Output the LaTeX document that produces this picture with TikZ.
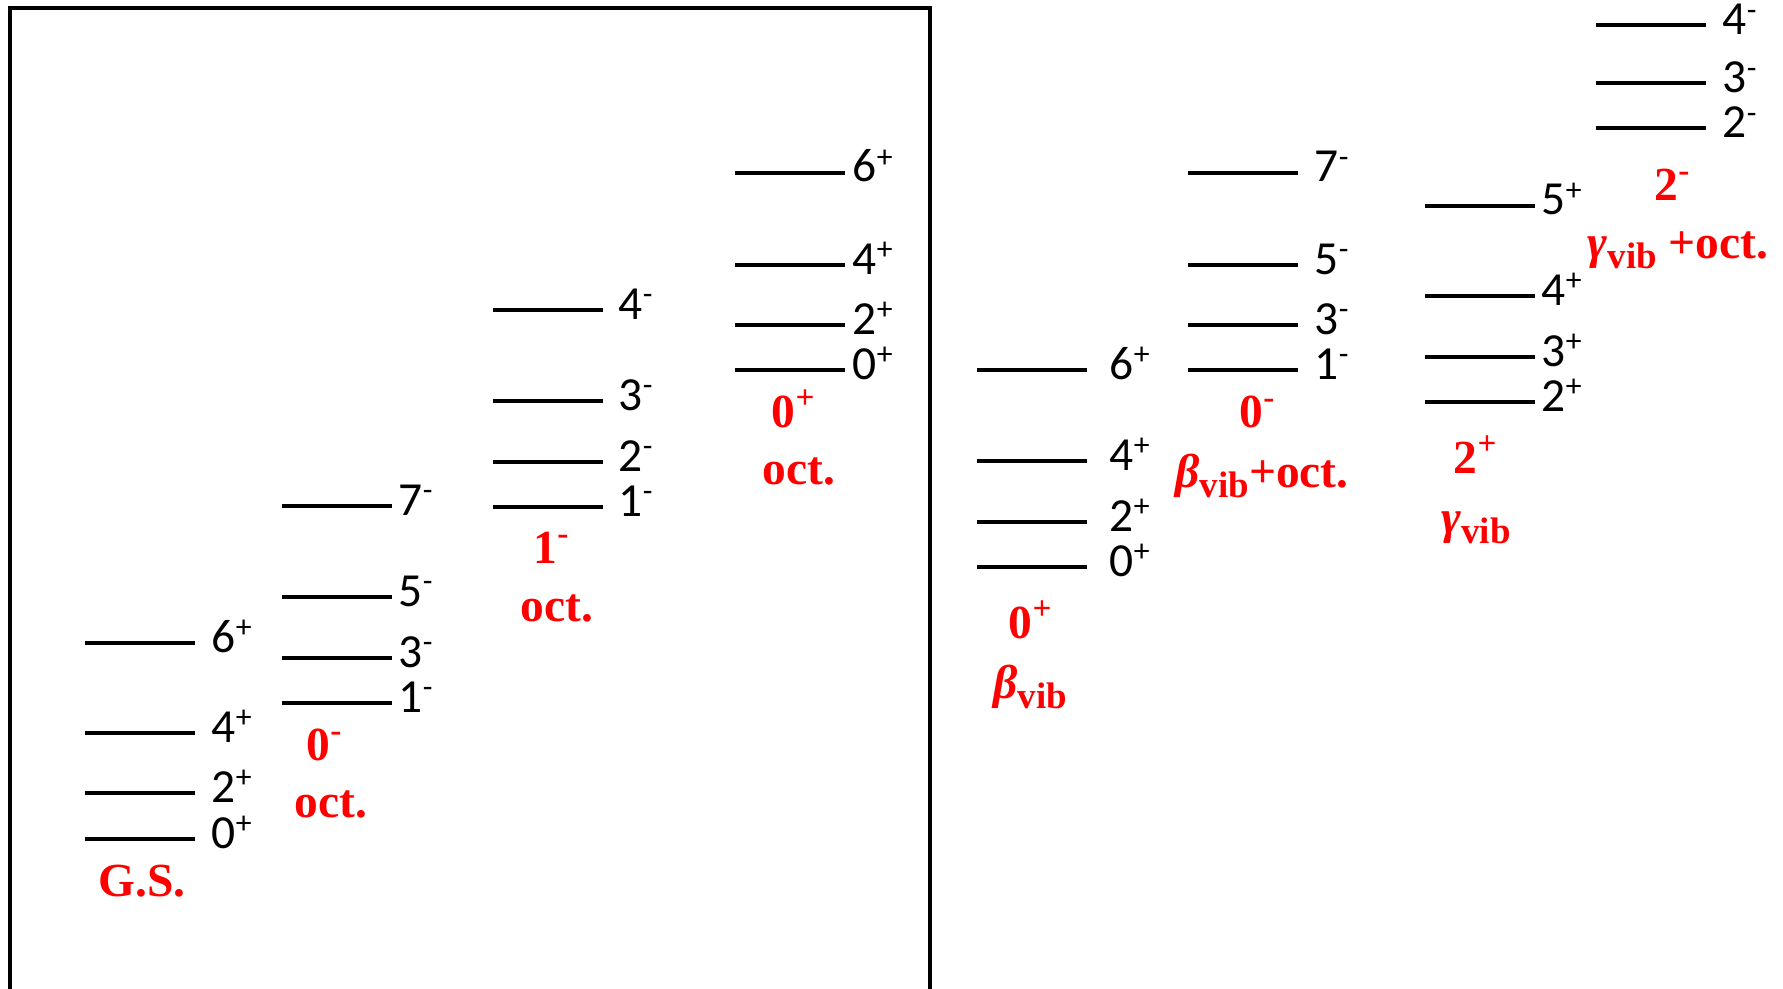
\documentclass[tikz,border=0pt]{standalone}
\usepackage{fontspec}
\usepackage{xcolor}
\usepackage{tikz}
\usetikzlibrary{calc,positioning}
\setmainfont{Liberation Serif}
\newfontfamily\jpfont{Carlito}
\definecolor{bandred}{RGB}{255,0,0}
\newcommand\jpsup[1]{\raisebox{0.3em}{\fontsize{9}{9}\selectfont #1}}
\newcommand\vibsub{\raisebox{-0.22em}{\fontsize{10.5}{10.5}\selectfont vib}}
\tikzset{
  level/.style={line width=1pt},
  jp/.style={font=\jpfont\fontsize{13.5}{16}\selectfont, anchor=base west, inner sep=0pt},
  band/.style={text=bandred, font=\bfseries\fontsize{13.5}{16}\selectfont, anchor=base, inner sep=0pt}
}

\begin{document}
\begin{tikzpicture}[x=0.01cm,y=-0.01cm]
\useasboundingbox (0,0) rectangle (1783,988);
\draw[line width=1.15pt] (10,990) -- (10,8) -- (930,8) -- (930,990);

% ground state band
\begin{scope}[shift={(85,0)}]
\foreach \y/\j/\p [count=\i] in {839/0/+, 793/2/+, 733/4/+, 643/6/+} {
  \draw[level] (0,\y) -- (110,\y);
  \node[jp] (gs\i) at (126,\y+9) {\j\jpsup{\p}};
}
\node[band] (gsname) at (57,896) {G.S.};
\end{scope}

% K=0- octupole band
\begin{scope}[shift={(282,0)}]
\foreach \y/\j/\p [count=\i] in {703/1/-, 658/3/-, 597/5/-, 506/7/-} {
  \draw[level] (0,\y) -- (110,\y);
  \node[jp] (octa\i) at (116,\y+9) {\j\jpsup{\p}};
}
\node[band] (octaK) at (43,760) {0\textsuperscript{-}};
\node[band] (octaname) at (49,817) {oct.};
\end{scope}

% K=1- octupole band
\begin{scope}[shift={(493,0)}]
\foreach \y/\j/\p [count=\i] in {507/1/-, 462/2/-, 401/3/-, 310/4/-} {
  \draw[level] (0,\y) -- (110,\y);
  \node[jp] (octb\i) at (125,\y+9) {\j\jpsup{\p}};
}
\node[band] (octbK) at (59,563) {1\textsuperscript{-}};
\node[band] (octbname) at (64,621) {oct.};
\end{scope}

% K=0+ octupole band
\begin{scope}[shift={(735,0)}]
\foreach \y/\j/\p [count=\i] in {370/0/+, 325/2/+, 265/4/+, 173/6/+} {
  \draw[level] (0,\y) -- (110,\y);
  \node[jp] (octc\i) at (117,\y+9) {\j\jpsup{\p}};
}
\node[band] (octcK) at (59,427) {0\textsuperscript{+}};
\node[band] (octcname) at (64,484) {oct.};
\end{scope}

% beta band
\begin{scope}[shift={(977,0)}]
\foreach \y/\j/\p [count=\i] in {567/0/+, 522/2/+, 461/4/+, 370/6/+} {
  \draw[level] (0,\y) -- (110,\y);
  \node[jp] (beta\i) at (132,\y+9) {\j\jpsup{\p}};
}
\node[band] (betaK) at (54,638) {0\textsuperscript{+}};
\node[band] (betaname) at (53,698) {{\itshape β}\vibsub};
\end{scope}

% beta + octupole band
\begin{scope}[shift={(1188,0)}]
\foreach \y/\j/\p [count=\i] in {370/1/-, 325/3/-, 265/5/-, 173/7/-} {
  \draw[level] (0,\y) -- (110,\y);
  \node[jp] (betaoct\i) at (126,\y+9) {\j\jpsup{\p}};
}
\node[band] (betaoctK) at (70,427) {0\textsuperscript{-}};
\node[band] (betaoctname) at (74,487) {{\itshape β}\vibsub+oct.};
\end{scope}

% gamma band
\begin{scope}[shift={(1425,0)}]
\foreach \y/\j/\p [count=\i] in {402/2/+, 357/3/+, 296/4/+, 206/5/+} {
  \draw[level] (0,\y) -- (110,\y);
  \node[jp] (gam\i) at (116,\y+9) {\j\jpsup{\p}};
}
\node[band] (gamK) at (51,473) {2\textsuperscript{+}};
\node[band] (gamname) at (51,533) {{\itshape γ}\vibsub};
\end{scope}

% gamma + octupole band
\begin{scope}[shift={(1596,0)}]
\foreach \y/\j/\p [count=\i] in {128/2/-, 83/3/-, 25/4/-} {
  \draw[level] (0,\y) -- (110,\y);
  \node[jp] (gamoct\i) at (126,\y+10) {\j\jpsup{\p}};
}
\node[band] (gamoctK) at (77,200) {2\textsuperscript{-}};
\node[band] (gamoctname) at (82,258) {{\itshape γ}\vibsub{} +oct.};
\end{scope}
\end{tikzpicture}
\end{document}
